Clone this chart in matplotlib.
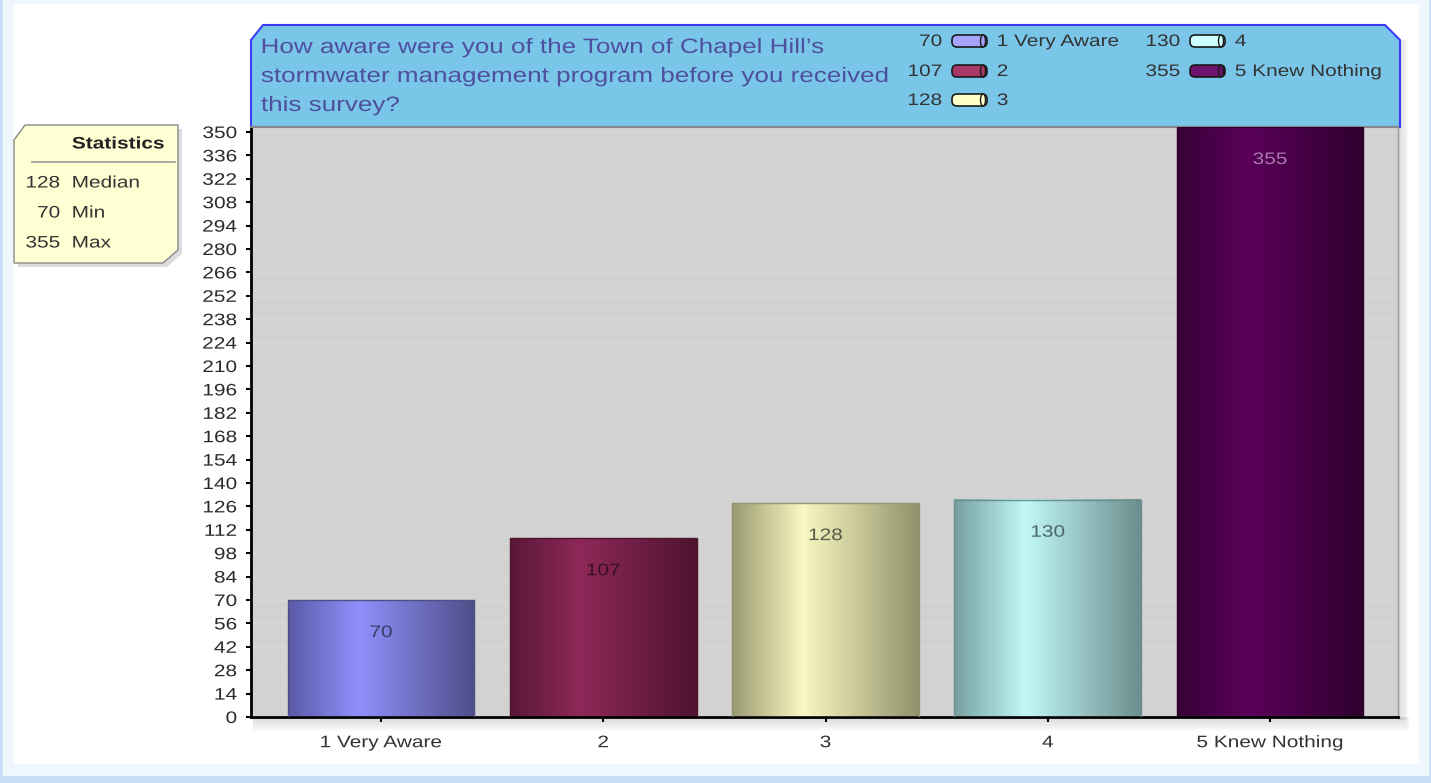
import matplotlib
matplotlib.use("Agg")
import matplotlib.pyplot as plt
import numpy as np
from matplotlib.colors import LinearSegmentedColormap
from matplotlib.patches import Polygon, Rectangle, FancyBboxPatch, Ellipse
from matplotlib.patheffects import AbstractPathEffect
from matplotlib.transforms import Affine2D

plt.rcParams['font.family'] = ['Liberation Sans', 'DejaVu Sans']

# data
categories = ["1 Very Aware", "2", "3", "4", "5 Knew Nothing"]
counts = [70, 107, 128, 130, 355]
title_lines = ["How aware were you of the Town of Chapel Hill\u2019s",
               "stormwater management program before you received",
               "this survey?"]
stat_names = ["Median", "Min", "Max"]
stat_values = [128, 70, 355]
yticks = list(range(0, 351, 14))

# gradient colours per bar: left edge, highlight, right edge
bar_grad = [("#5a5aa8", "#9090fc", "#4e4e88"),
            ("#5a1838", "#8e2858", "#4e1430"),
            ("#9a9a72", "#f8f8c2", "#92926c"),
            ("#76a0a0", "#c2f8f8", "#6c8e8e"),
            ("#360036", "#5a005a", "#2e002e")]
legend_col = ["#a4a4ff", "#a83868", "#ffffc8", "#ccffff", "#6c146c"]
label_col = ["#3c3c6a", "#3a1024", "#5a5a48", "#4a6666", "#a878a8"]


class HStretch(AbstractPathEffect):
    """the source picture is stretched sideways; widen glyphs to match"""
    def __init__(self, sx=1.25, pivot="left"):
        super().__init__()
        self.sx = sx
        self.pivot = pivot

    def draw_path(self, renderer, gc, tpath, affine, rgbFace=None):
        ext = tpath.get_extents(affine)
        p = {"left": ext.x0, "right": ext.x1, "center": 0.5 * (ext.x0 + ext.x1)}[self.pivot]
        t = affine + Affine2D().translate(-p, 0).scale(self.sx, 1).translate(p, 0)
        renderer.draw_path(gc, tpath, t, rgbFace)


def st(pivot):
    return [HStretch(1.25, pivot)]


W, H = 1431, 783
fig = plt.figure(figsize=(W / 100, H / 100), dpi=100)

# background / decoration axes in pixel coordinates
bg = fig.add_axes([0, 0, 1, 1], zorder=0)
bg.set_xlim(0, W)
bg.set_ylim(H, 0)
bg.axis("off")
bg.add_patch(Rectangle((0, 0), W, H, color="#c8dcf5"))
bg.add_patch(Rectangle((3, 0), 1425, 775, color="#f0f6fe"))
bg.add_patch(Rectangle((14, 4), 1404, 759, color="white"))

# soft shadow under/right of plot
for i in range(8):
    bg.add_patch(Rectangle((253, 717), 1150 + i, 3 + i * 1.5, color="#888888", alpha=0.035, lw=0))
    bg.add_patch(Rectangle((1398, 40), 2 + i * 1.2, 680, color="#888888", alpha=0.035, lw=0))

# title box
tb = [(251, 127), (251, 40), (263, 25), (1385, 25), (1400, 40), (1400, 127)]
bg.add_patch(Polygon(tb, closed=True, fc="#7ac6e8", ec="#3c3cf4", lw=1.5, zorder=2))
for i, line in enumerate(title_lines):
    bg.text(261, 47.5 + i * 29, line, fontsize=15, color="#4f4f9f", va="center", ha="left",
            zorder=3, path_effects=st("left"))

# legend inside the title box
leg_pos = [(942, 41), (942, 71), (942, 100), (1180, 41), (1180, 71)]
for (lx, ly), v, c, name in zip(leg_pos, counts, legend_col, categories):
    bg.text(lx, ly + 0.5, str(v), fontsize=12, color="#333333", ha="right", va="center",
            zorder=3, path_effects=st("right"))
    bg.add_patch(FancyBboxPatch((lx + 10, ly - 6), 35, 12,
                                boxstyle="round,pad=0,rounding_size=5",
                                fc=c, ec="#1a1a1a", lw=1.2, zorder=3))
    bg.add_patch(Ellipse((lx + 41, ly), 5, 12, fc=c, ec="#1a1a1a", lw=1, zorder=4))
    bg.text(lx + 55, ly + 0.5, name, fontsize=12, color="#333333", ha="left", va="center",
            zorder=3, path_effects=st("left"))

# statistics box
sb = [(14, 140), (25, 125), (178, 125), (178, 250), (163, 263), (14, 263)]
sh = [(x + 4, y + 4) for x, y in sb]
bg.add_patch(Polygon(sh, closed=True, fc="#bbbbbb", ec="none", alpha=0.5, zorder=2))
bg.add_patch(Polygon(sb, closed=True, fc="#ffffd4", ec="#8a8a8a", lw=1, zorder=3))
bg.text(118, 144, "Statistics", fontsize=12, fontweight="bold", color="#222222",
        ha="center", va="center", zorder=4, path_effects=st("center"))
bg.plot([32, 175], [162, 162], color="#999999", lw=1.2, zorder=4)
for i, (n, v) in enumerate(zip(stat_names, stat_values)):
    yy = 183 + i * 30
    bg.text(60, yy, str(v), fontsize=12, color="#333333", ha="right", va="center",
            zorder=4, path_effects=st("right"))
    bg.text(72, yy, n, fontsize=12, color="#333333", ha="left", va="center",
            zorder=4, path_effects=st("left"))

# main plot axes
x0, x1, yt, yb = 251, 1398, 127, 717
ax = fig.add_axes([x0 / W, (H - yb) / H, (x1 - x0) / W, (yb - yt) / H], zorder=2)
ax.set_facecolor("#d2d2d2")
ymax = 353

xs = np.arange(len(categories))
bw = 0.84
grad = np.linspace(0, 1, 256).reshape(1, -1)
for xi, v, (cl, cm, cr), lc in zip(xs, counts, bar_grad, label_col):
    cmap = LinearSegmentedColormap.from_list("g", [(0, cl), (0.38, cm), (1, cr)])
    top = min(v, ymax)
    ax.imshow(grad, cmap=cmap, aspect="auto", interpolation="bilinear",
              extent=[xi - bw / 2, xi + bw / 2, 0, top], zorder=2)
    ax.add_patch(Rectangle((xi - bw / 2, 0), bw, top, fill=False, ec=cr, lw=1, zorder=3))
    ax.annotate(str(v), (xi, top), xytext=(0, -32.5), textcoords="offset pixels",
                ha="center", va="center", fontsize=12, color=lc, zorder=4,
                path_effects=st("center"))

ax.set_xlim(-0.585, 4.576)
ax.set_ylim(0, ymax)
ax.set_yticks(yticks)
ax.set_yticklabels([str(t) for t in yticks], fontsize=12, color="#2a2a2a")
ax.set_xticks(xs)
ax.set_xticklabels(categories, fontsize=12, color="#333333")
ax.tick_params(axis="y", direction="out", length=3.6, width=1.5, pad=6.5)
ax.tick_params(axis="x", direction="out", length=3.6, width=1.5, pad=9.5)
for lab in ax.get_yticklabels():
    lab.set_path_effects(st("right"))
for lab in ax.get_xticklabels():
    lab.set_path_effects(st("center"))
for t in yticks:
    ax.axhline(t, color="#dadada", lw=0.6, zorder=1)
ax.spines["left"].set_linewidth(2)
ax.spines["bottom"].set_linewidth(2)
ax.spines["top"].set_color("#888888")
ax.spines["top"].set_linewidth(1.5)
ax.spines["right"].set_color("#999999")
ax.spines["right"].set_linewidth(1)

fig.savefig("out.png", dpi=100)
